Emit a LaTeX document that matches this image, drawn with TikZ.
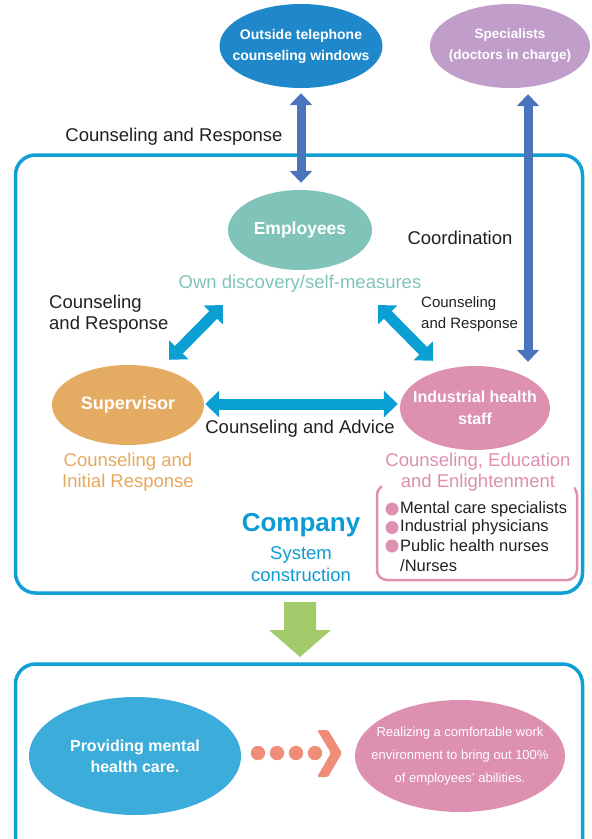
\documentclass[tikz,border=0pt]{standalone}
\usepackage{fontspec}
\setmainfont{Liberation Sans}
\usetikzlibrary{shapes.geometric,arrows.meta,calc}
\definecolor{outblue}{HTML}{1F88CA}
\definecolor{specpurple}{HTML}{C19DCA}
\definecolor{empteal}{HTML}{80C4B9}
\definecolor{suporange}{HTML}{E4AB63}
\definecolor{indpink}{HTML}{DD90B0}
\definecolor{provblue}{HTML}{3CADDA}
\definecolor{boxblue}{HTML}{119FD6}
\definecolor{arrowblue}{HTML}{4A75BD}
\definecolor{cyanarrow}{HTML}{0BA0D3}
\definecolor{greenarrow}{HTML}{A3CA6B}
\definecolor{salmon}{HTML}{EF8D79}
\definecolor{txtdark}{HTML}{231F20}
\definecolor{orangetxt}{HTML}{E7A85E}
\definecolor{pinktxt}{HTML}{DE8FB0}
\definecolor{comptxt}{HTML}{0E9BD4}
\begin{document}
\begin{tikzpicture}[x=1pt,y=-1pt,
  ell/.style={ellipse, inner sep=0pt},
  etxt/.style={text=white, align=center, inner sep=0pt},
  lbl/.style={font=\fontsize{18.5}{21}\selectfont, text=txtdark, align=center, inner sep=1pt},
  vblue/.style={draw=arrowblue, line width=9pt,
    {Triangle[width=22pt,length=12pt]}-{Triangle[width=22pt,length=12pt]}},
  cyanarr/.style={draw=cyanarrow, line width=11pt,
    {Triangle[width=26pt,length=14pt]}-{Triangle[width=26pt,length=14pt]}},
  bigbox/.style={draw=boxblue, line width=3.5pt, rounded corners=20pt},
  bullet/.style={circle, fill=indpink, minimum size=13pt, inner sep=0pt},
  blist/.style={anchor=west, font=\fontsize{16.5}{19}\selectfont, text=txtdark, inner sep=0pt}
]
\useasboundingbox (0,0) rectangle (592,839);
\clip (0,0) rectangle (592,839);

% boxes
\draw[bigbox] (15.5,155) rectangle (582.5,593);
\draw[bigbox] (15.5,664) rectangle (582.5,880);

% top ellipses
\node[ell, fill=outblue, minimum width=163pt, minimum height=84pt] (out) at (301,46) {};
\node[etxt, font=\fontsize{14}{21}\selectfont\bfseries] (outT) at (out.center) {Outside telephone\\counseling windows};
\node[ell, fill=specpurple, minimum width=160pt, minimum height=84pt] (spec) at (510,46) {};
\node[etxt, font=\fontsize{13.5}{21}\selectfont\bfseries] (specT) at (spec.center) {Specialists\\(doctors in charge)};

% main ellipses
\node[ell, fill=empteal, minimum width=144pt, minimum height=80pt] (emp) at (300,230) {};
\node[etxt, font=\fontsize{17.5}{21}\selectfont\bfseries] (empT) at (emp.center) {Employees};
\node[ell, fill=suporange, minimum width=152pt, minimum height=80pt] (sup) at (128,405) {};
\node[etxt, font=\fontsize{18}{21}\selectfont\bfseries] (supT) at (sup.center) {Supervisor};
\node[ell, fill=indpink, minimum width=150pt, minimum height=84pt] (ind) at (475,408) {};
\node[etxt, font=\fontsize{16}{22}\selectfont\bfseries] (indT) at (ind.center) {Industrial health\\staff};

% labels
\node[lbl] (cr1) at (174,137) {Counseling and Response};
\node[lbl, text=empteal] (own) at (300,284) {Own discovery/self-measures};
\node[lbl] (coord) at (460,238) {Coordination};
\node[lbl, align=left, anchor=west] (crl) at (48,314) {Counseling\\and Response};
\node[lbl, align=left, anchor=west, font=\fontsize{15}{21}\selectfont] (crr) at (420,314) {Counseling\\and Response};
\node[lbl] (adv) at (300,429) {Counseling and Advice};
\node[lbl, text=orangetxt] (supl) at (128,472) {Counseling and\\Initial Response};

% pink box
\node[draw=indpink, line width=2.5pt, rounded corners=10pt, minimum width=200pt,
  minimum height=95pt, inner sep=0pt] (pbox) at (477,532.5) {};
\node[lbl, text=pinktxt, fill=white, inner sep=3pt] (indl) at (478,472) {Counseling, Education\\and Enlightenment};
\node[bullet] (b1) at (392,509) {};
\node[bullet] (b2) at (392,527.5) {};
\node[bullet] (b3) at (392,546) {};
\node[blist] (t1) at (400,509) {Mental care specialists};
\node[blist] (t2) at (400,527.5) {Industrial physicians};
\node[blist] (t3) at (400,546) {Public health nurses};
\node[blist] (t4) at (400,566) {/Nurses};

% company
\node[font=\fontsize{26}{30}\selectfont\bfseries, text=comptxt] (comp) at (301,525) {Company};
\node[lbl, text=comptxt, font=\fontsize{18.5}{22}\selectfont] (sys) at (301,564) {System\\construction};

% arrows
\draw[vblue] ($(out.south)+(0,5)$) -- ($(out.south |- emp.north)+(0,-7)$);
\draw[vblue] ($(spec.south)+(18,6)$) -- ($(ind.north)+(53,-4)$);
\draw[cyanarr] ($(own.center)+(-77,21)$) -- ($(sup.north)+(41,-5)$);
\draw[cyanarr] ($(own.center)+(78,21)$) -- ($(ind.north)+(-42,-5)$);
\draw[cyanarr] ($(sup.east)+(1,-1)$) -- ($(ind.west)+(-2,-4)$);

% green arrow
\fill[greenarrow] (284,602) -- (316,602) -- (316,630) -- (331,630) -- (300,657)
  -- (269,630) -- (284,630) -- cycle;

% bottom ellipses
\node[ell, fill=provblue, minimum width=212pt, minimum height=118pt] (prov) at (135,756) {};
\node[etxt, font=\fontsize{16}{21}\selectfont\bfseries] (provT) at (prov.center) {Providing mental\\health care.};
\node[ell, fill=indpink, minimum width=210pt, minimum height=112pt] (real) at (460,756) {};
\node[etxt, font=\fontsize{13}{23}\selectfont] (realT) at (real.center) {Realizing a comfortable work\\environment to bring out 100\%\\of employees' abilities.};

% dots and chevron
\foreach \xx in {258,277,296,315} \fill[salmon] (\xx,753) circle (7.2);
\fill[salmon, rounded corners=1.5pt] (317,730) -- (328,730) -- (342,753) -- (328,777)
  -- (317,777) -- (331,753) -- cycle;
\end{tikzpicture}
\end{document}
